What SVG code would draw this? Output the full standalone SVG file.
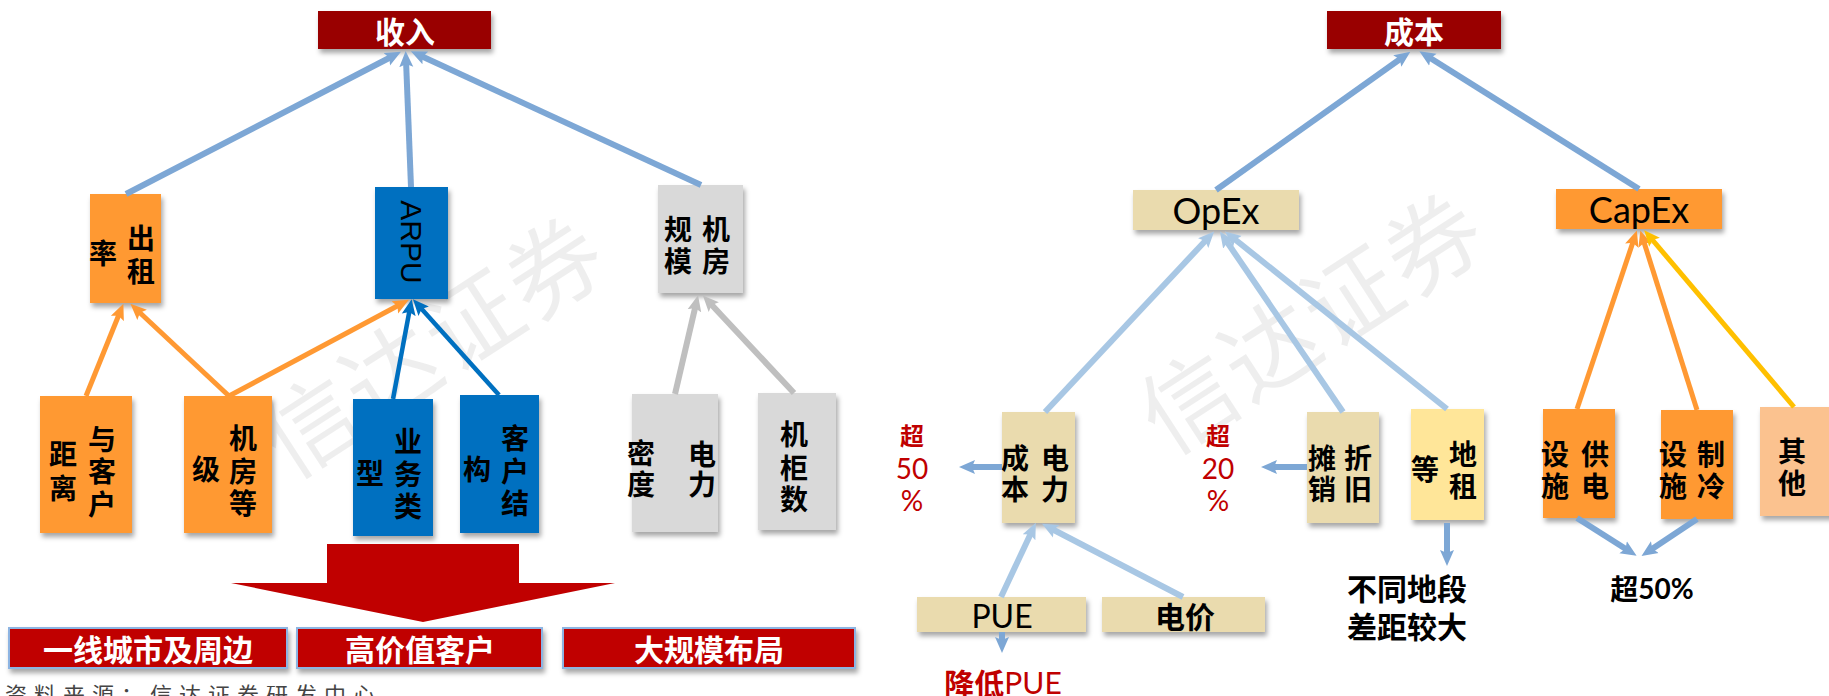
<svg xmlns="http://www.w3.org/2000/svg" width="1829" height="696" viewBox="0 0 1829 696">
<style>
.cn{font-family:"Noto Sans CJK SC","Noto Sans CJK TC",sans-serif;font-weight:700;font-size:28px;fill:#000;text-anchor:middle;dominant-baseline:central}
.hdr{font-family:"Noto Sans CJK SC",sans-serif;font-weight:700;font-size:30px;fill:#fff;text-anchor:middle;dominant-baseline:central}
.lat{font-family:Lato,"Liberation Sans",sans-serif;fill:#000;text-anchor:middle;dominant-baseline:central}
.red{fill:#C00000}
.wm{font-family:"Noto Sans CJK SC",sans-serif;font-weight:400;font-size:95px;fill:#000;fill-opacity:0.065;text-anchor:middle;dominant-baseline:central;letter-spacing:2px}
.shadow{filter:url(#sh)}
.c-main{stroke:#7DA7D5;stroke-width:6;fill:none}
.c-light{stroke:#A8C7E4;stroke-width:6;fill:none}
.c-or{stroke:#FF9933;stroke-width:5;fill:none}
.c-bl{stroke:#0070C0;stroke-width:4.5;fill:none}
.c-gr{stroke:#BFBFBF;stroke-width:6;fill:none}
.c-ye{stroke:#FFC000;stroke-width:5;fill:none}
.c-med{stroke:#7DA7D5;stroke-width:6;fill:none}
</style>
<defs>
<filter id="sh" x="-20%" y="-20%" width="150%" height="150%">
<feDropShadow dx="2" dy="4" stdDeviation="2.5" flood-color="#000" flood-opacity="0.35"/>
</filter>
<marker id="m-main" markerUnits="userSpaceOnUse" viewBox="0 -8 16 16" markerWidth="16" markerHeight="16" refX="7" refY="0" orient="auto"><path d="M0,-7 L16,0 L0,7 L3,0 z" fill="#7DA7D5"/></marker>
<marker id="m-light" markerUnits="userSpaceOnUse" viewBox="0 -8 16 16" markerWidth="16" markerHeight="16" refX="7" refY="0" orient="auto"><path d="M0,-7 L16,0 L0,7 L3,0 z" fill="#A8C7E4"/></marker>
<marker id="m-or" markerUnits="userSpaceOnUse" viewBox="0 -8 16 16" markerWidth="16" markerHeight="16" refX="7" refY="0" orient="auto"><path d="M0,-7 L16,0 L0,7 L3,0 z" fill="#FF9933"/></marker>
<marker id="m-bl" markerUnits="userSpaceOnUse" viewBox="0 -8 16 16" markerWidth="16" markerHeight="16" refX="7" refY="0" orient="auto"><path d="M0,-7 L16,0 L0,7 L3,0 z" fill="#0070C0"/></marker>
<marker id="m-gr" markerUnits="userSpaceOnUse" viewBox="0 -8 16 16" markerWidth="16" markerHeight="16" refX="7" refY="0" orient="auto"><path d="M0,-7 L16,0 L0,7 L3,0 z" fill="#BFBFBF"/></marker>
<marker id="m-ye" markerUnits="userSpaceOnUse" viewBox="0 -8 16 16" markerWidth="16" markerHeight="16" refX="7" refY="0" orient="auto"><path d="M0,-7 L16,0 L0,7 L3,0 z" fill="#FFC000"/></marker>
</defs>
<rect width="1829" height="696" fill="#fff"/>
<g id="watermark">
<text class="wm" transform="translate(429,341) rotate(-33)">信达证券</text>
<text class="wm" transform="translate(1308,317) rotate(-33)">信达证券</text>
</g>

<g id="n-shouru"><rect class="shadow" x="318" y="11" width="173" height="38" fill="#990000"/><text class="hdr" x="405" y="30">收入</text></g>
<g id="n-chuzulv"><rect class="shadow" x="90" y="194" width="71" height="109" fill="#FF9933"/><text class="cn"><tspan x="141" y="237">出</tspan><tspan x="141" y="270">租</tspan></text><text class="cn" x="103" y="252">率</text></g>
<g id="n-arpu"><rect class="shadow" x="375" y="187" width="73" height="112" fill="#0070C0"/><text class="lat" style="font-family:'Liberation Sans',sans-serif;font-size:30px" transform="translate(411,242) rotate(90)">ARPU</text></g>
<g id="n-jifangguimo"><rect class="shadow" x="658" y="185" width="85" height="108" fill="#D9D9D9"/><text class="cn"><tspan x="716" y="228">机</tspan><tspan x="716" y="260">房</tspan></text><text class="cn"><tspan x="678" y="228">规</tspan><tspan x="678" y="260">模</tspan></text></g>
<g id="n-juli"><rect class="shadow" x="40" y="396" width="92" height="137" fill="#FF9933"/><text class="cn"><tspan x="102" y="438">与</tspan><tspan x="102" y="470">客</tspan><tspan x="102" y="503">户</tspan></text><text class="cn"><tspan x="63" y="453">距</tspan><tspan x="63" y="487">离</tspan></text></g>
<g id="n-jifangdengji"><rect class="shadow" x="184" y="396" width="88" height="137" fill="#FF9933"/><text class="cn"><tspan x="243" y="437">机</tspan><tspan x="243" y="470">房</tspan><tspan x="243" y="502">等</tspan></text><text class="cn" x="206" y="468">级</text></g>
<g id="n-yewuleixing"><rect class="shadow" x="353" y="399" width="80" height="137" fill="#0070C0"/><text class="cn"><tspan x="408" y="440">业</tspan><tspan x="408" y="473">务</tspan><tspan x="408" y="505">类</tspan></text><text class="cn" x="370" y="472">型</text></g>
<g id="n-kehujiegou"><rect class="shadow" x="460" y="395" width="79" height="138" fill="#0070C0"/><text class="cn"><tspan x="515" y="437">客</tspan><tspan x="515" y="470">户</tspan><tspan x="515" y="502">结</tspan></text><text class="cn" x="477" y="468">构</text></g>
<g id="n-dianlimidu"><rect class="shadow" x="632" y="394" width="86" height="138" fill="#D9D9D9"/><text class="cn"><tspan x="702" y="453">电</tspan><tspan x="702" y="483">力</tspan></text><text class="cn"><tspan x="641" y="452">密</tspan><tspan x="641" y="483">度</tspan></text></g>
<g id="n-jiguishu"><rect class="shadow" x="758" y="393" width="78" height="137" fill="#D9D9D9"/><text class="cn"><tspan x="794" y="433">机</tspan><tspan x="794" y="467">柜</tspan><tspan x="794" y="498">数</tspan></text></g>

<g id="n-bigarrow"><path d="M327,544 L519,544 L519,583 L615,583 L423,622 L231,583 L327,583 Z" fill="#C00000"/></g>
<g id="n-yixian"><rect class="shadow" x="9" y="628" width="278" height="40" fill="#C00000" stroke="#8DB4E2" stroke-width="2"/><text class="hdr" x="148" y="648">一线城市及周边</text></g>
<g id="n-gaojiazhi"><rect class="shadow" x="297" y="628" width="245" height="40" fill="#C00000" stroke="#8DB4E2" stroke-width="2"/><text class="hdr" x="420" y="648">高价值客户</text></g>
<g id="n-daguimo"><rect class="shadow" x="563" y="628" width="292" height="40" fill="#C00000" stroke="#8DB4E2" stroke-width="2"/><text class="hdr" x="709" y="648">大规模布局</text></g>

<g id="n-chengben"><rect class="shadow" x="1327" y="11" width="174" height="38" fill="#990000"/><text class="hdr" x="1414" y="30">成本</text></g>
<g id="n-opex"><rect class="shadow" x="1133" y="190" width="166" height="40" fill="#EADBAE"/><text class="lat" style="font-size:36px" x="1216" y="210">OpEx</text></g>
<g id="n-capex"><rect class="shadow" x="1556" y="189" width="166" height="40" fill="#FF9933"/><text class="lat" style="font-size:36px" x="1639" y="209">CapEx</text></g>
<g id="n-dianlichengben"><rect class="shadow" x="1002" y="412" width="73" height="111" fill="#EADBAE"/><text class="cn"><tspan x="1055" y="457">电</tspan><tspan x="1055" y="488">力</tspan></text><text class="cn"><tspan x="1015" y="457">成</tspan><tspan x="1015" y="488">本</tspan></text></g>
<g id="n-zhejiu"><rect class="shadow" x="1307" y="412" width="72" height="111" fill="#EADBAE"/><text class="cn"><tspan x="1358" y="457">折</tspan><tspan x="1358" y="488">旧</tspan></text><text class="cn"><tspan x="1322" y="457">摊</tspan><tspan x="1322" y="488">销</tspan></text></g>
<g id="n-dizu"><rect class="shadow" x="1411" y="409" width="73" height="111" fill="#FFE699"/><text class="cn"><tspan x="1463" y="453">地</tspan><tspan x="1463" y="485">租</tspan></text><text class="cn" x="1425" y="468">等</text></g>
<g id="n-gongdian"><rect class="shadow" x="1543" y="409" width="72" height="109" fill="#FF9933"/><text class="cn"><tspan x="1595" y="453">供</tspan><tspan x="1595" y="485">电</tspan></text><text class="cn"><tspan x="1555" y="453">设</tspan><tspan x="1555" y="485">施</tspan></text></g>
<g id="n-zhileng"><rect class="shadow" x="1661" y="410" width="72" height="109" fill="#FF9933"/><text class="cn"><tspan x="1711" y="453">制</tspan><tspan x="1711" y="485">冷</tspan></text><text class="cn"><tspan x="1673" y="453">设</tspan><tspan x="1673" y="485">施</tspan></text></g>
<g id="n-qita"><rect class="shadow" x="1760" y="407" width="75" height="109" fill="#FBC28F"/><text class="cn"><tspan x="1792" y="450">其</tspan><tspan x="1792" y="482">他</tspan></text></g>
<g id="n-pue"><rect class="shadow" x="917" y="597" width="169" height="35" fill="#EADBAE"/><text class="lat" style="font-size:32px" x="1002" y="615">PUE</text></g>
<g id="n-dianjia"><rect class="shadow" x="1102" y="597" width="163" height="35" fill="#EADBAE"/><text class="cn" style="font-size:30px" x="1185" y="615">电价</text></g>

<g id="t-chao50">
<text class="cn red" style="font-size:24px" x="912" y="434">超</text>
<text class="lat red" style="font-size:28px" x="912" y="468">50</text>
<text class="lat red" style="font-size:28px" x="912" y="500">%</text>
</g>
<g id="t-chao20">
<text class="cn red" style="font-size:24px" x="1218" y="434">超</text>
<text class="lat red" style="font-size:28px" x="1218" y="468">20</text>
<text class="lat red" style="font-size:28px" x="1218" y="500">%</text>
</g>
<g id="t-jiangdi"><text class="cn red" style="font-size:30px" x="1003" y="682">降低<tspan style="font-family:Lato,'Liberation Sans',sans-serif;font-weight:400">PUE</tspan></text></g>
<g id="t-butong"><text class="cn" style="font-size:30px" x="1407" y="587">不同地段</text><text class="cn" style="font-size:30px" x="1407" y="625">差距较大</text></g>
<g id="t-chao50b"><text class="cn" style="font-size:28px" x="1652" y="588">超<tspan style="font-family:Lato,'Liberation Sans',sans-serif">50%</tspan></text></g>
<g id="t-source"><text x="5" y="703" style="font-family:'Noto Sans CJK SC',sans-serif;font-size:22px;letter-spacing:7px;fill:#444">资料来源：信达证券研发中心</text></g>

<g id="connectors">
<line class="c-main" x1="126" y1="194" x2="393" y2="56" marker-end="url(#m-main)"/>
<line class="c-main" x1="411" y1="187" x2="406" y2="60" marker-end="url(#m-main)"/>
<line class="c-main" x1="701" y1="185" x2="419" y2="55" marker-end="url(#m-main)"/>
<line class="c-or" x1="86" y1="396" x2="120" y2="312" marker-end="url(#m-or)"/>
<line class="c-or" x1="229" y1="396" x2="137" y2="310" marker-end="url(#m-or)"/>
<line class="c-or" x1="229" y1="396" x2="401" y2="304" marker-end="url(#m-or)"/>
<line class="c-bl" x1="393" y1="399" x2="410" y2="308" marker-end="url(#m-bl)"/>
<line class="c-bl" x1="499" y1="395" x2="419" y2="306" marker-end="url(#m-bl)"/>
<line class="c-gr" x1="675" y1="394" x2="696" y2="304" marker-end="url(#m-gr)"/>
<line class="c-gr" x1="794" y1="393" x2="709" y2="302" marker-end="url(#m-gr)"/>
<line class="c-main" x1="1216" y1="190" x2="1403" y2="57" marker-end="url(#m-main)"/>
<line class="c-main" x1="1639" y1="189" x2="1427" y2="56" marker-end="url(#m-main)"/>
<line class="c-light" x1="1045" y1="412" x2="1208" y2="238" marker-end="url(#m-light)"/>
<line class="c-light" x1="1343" y1="412" x2="1225" y2="239" marker-end="url(#m-light)"/>
<line class="c-light" x1="1447" y1="409" x2="1232" y2="237" marker-end="url(#m-light)"/>
<line class="c-light" x1="1001" y1="597" x2="1032" y2="531" marker-end="url(#m-light)"/>
<line class="c-light" x1="1183" y1="597" x2="1050" y2="528" marker-end="url(#m-light)"/>
<line class="c-or" x1="1577" y1="409" x2="1634" y2="239" marker-end="url(#m-or)"/>
<line class="c-or" x1="1697" y1="410" x2="1643" y2="239" marker-end="url(#m-or)"/>
<line class="c-ye" x1="1794" y1="407" x2="1650" y2="237" marker-end="url(#m-ye)"/>
<line class="c-med" x1="1002" y1="467" x2="968" y2="467" marker-end="url(#m-main)"/>
<line class="c-med" x1="1307" y1="467" x2="1270" y2="467" marker-end="url(#m-main)"/>
<line class="c-med" x1="1447" y1="523" x2="1447" y2="557" marker-end="url(#m-main)"/>
<line class="c-med" x1="1002" y1="632" x2="1002" y2="644" marker-end="url(#m-main)"/>
<line class="c-med" x1="1577" y1="518" x2="1629" y2="551" marker-end="url(#m-main)"/>
<line class="c-med" x1="1697" y1="519" x2="1649" y2="551" marker-end="url(#m-main)"/>
</g>
</svg>
